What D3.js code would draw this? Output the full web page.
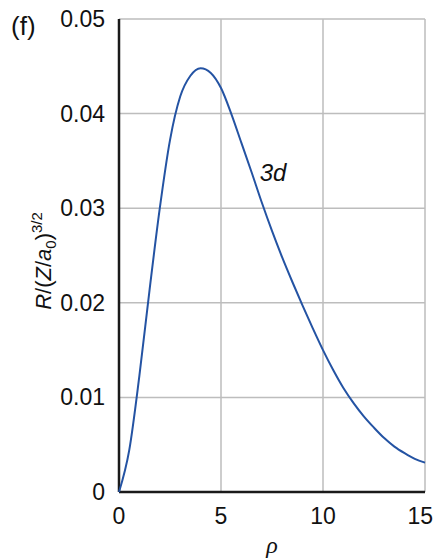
<!DOCTYPE html>
<html>
<head>
<meta charset="utf-8">
<script src="https://cdn.jsdelivr.net/npm/d3@7"></script>
<style>
  body { margin: 0; background: #fff; }
  text { font-family: "Liberation Sans", Arial, sans-serif; fill: #111; }
</style>
</head>
<body>
<svg id="chart"></svg>
<script>
// values (rho, R/(Z/a0)^3/2), every 0.5
const rhoValues = [0, 0.5, 1, 1.5, 2, 2.5, 3, 3.5, 4, 4.5, 5, 5.5, 6, 6.5, 7, 7.5, 8, 8.5, 9, 9.5, 10,
                   10.5, 11, 11.5, 12, 12.5, 13, 13.5, 14, 14.5, 15];
const rValues   = [0, 0.0044, 0.0123, 0.0214, 0.0300, 0.0372, 0.0418, 0.0440, 0.0448, 0.0443, 0.0427,
                   0.0400, 0.0369, 0.0338, 0.0306, 0.0276, 0.0248, 0.0222, 0.0197, 0.0173, 0.0150,
                   0.0129, 0.0110, 0.0094, 0.0080, 0.0068, 0.0057, 0.0048, 0.0041, 0.0035, 0.0031];
const xTicks = [0, 5, 10, 15];
const yTicks = [0, 0.01, 0.02, 0.03, 0.04, 0.05];
const yTickLabels = ["0", "0.01", "0.02", "0.03", "0.04", "0.05"];
const curveName = "3d";

const width = 433, height = 560;
const margin = { top: 19, right: 8, bottom: 68, left: 119 };
const innerW = width - margin.left - margin.right;
const innerH = height - margin.top - margin.bottom;

const svg = d3.select("#chart").attr("width", width).attr("height", height);
const chart = svg.append("g").attr("transform", `translate(${margin.left},${margin.top})`);

const x = d3.scaleLinear().domain([0, 15]).range([0, innerW]);
const y = d3.scaleLinear().domain([0, 0.05]).range([innerH, 0]);

// grid
chart.append("g").selectAll("line")
  .data(xTicks.slice(1))
  .enter().append("line")
  .attr("x1", d => x(d)).attr("x2", d => x(d))
  .attr("y1", 0).attr("y2", innerH)
  .attr("stroke", "#bdbdbd").attr("stroke-width", 1.5);

chart.append("g").selectAll("line")
  .data(yTicks.slice(1))
  .enter().append("line")
  .attr("x1", 0).attr("x2", innerW)
  .attr("y1", d => y(d)).attr("y2", d => y(d))
  .attr("stroke", "#bdbdbd").attr("stroke-width", 1.5);

// axes lines (left + bottom dark)
chart.append("line").attr("x1", 0).attr("x2", 0).attr("y1", 0).attr("y2", innerH)
  .attr("stroke", "#1a1a1a").attr("stroke-width", 2.5);
chart.append("line").attr("x1", 0).attr("x2", innerW).attr("y1", innerH).attr("y2", innerH)
  .attr("stroke", "#1a1a1a").attr("stroke-width", 2.5);

// tick labels
chart.append("g").selectAll("text")
  .data(yTicks)
  .enter().append("text")
  .attr("x", -14)
  .attr("y", d => y(d) + 8)
  .attr("text-anchor", "end")
  .style("font-size", "23px")
  .text((d, i) => yTickLabels[i]);

chart.append("g").selectAll("text")
  .data(xTicks)
  .enter().append("text")
  .attr("x", (d, i) => i === xTicks.length - 1 ? width - margin.left : x(d))
  .attr("y", innerH + 32)
  .attr("text-anchor", (d, i) => i === xTicks.length - 1 ? "end" : "middle")
  .style("font-size", "23px")
  .text(d => d);

// curve
const pts = rhoValues.map((r, i) => [r, rValues[i]]);
const line = d3.line()
  .x(d => x(d[0]))
  .y(d => y(d[1]))
  .curve(d3.curveMonotoneX);

chart.append("path")
  .datum(pts)
  .attr("d", line)
  .attr("fill", "none")
  .attr("stroke", "#2453a3")
  .attr("stroke-width", 2);

// curve label
chart.append("text")
  .attr("x", x(6.9))
  .attr("y", y(0.0329))
  .style("font-size", "24px")
  .style("font-style", "italic")
  .text(curveName);

// panel tag
svg.append("text").attr("x", 11).attr("y", 35)
  .style("font-size", "26px").text("(f)");

// x label
svg.append("text")
  .attr("x", 272).attr("y", 553)
  .attr("text-anchor", "middle")
  .style("font-family", "'Liberation Serif', serif")
  .style("font-style", "italic")
  .style("font-size", "24px")
  .text("ρ");

// y label
const yl = svg.append("text")
  .attr("transform", "translate(51,261) rotate(-90)")
  .attr("text-anchor", "middle")
  .style("font-size", "22px");
yl.append("tspan").style("font-style", "italic").text("R");
yl.append("tspan").text("/(");
yl.append("tspan").style("font-style", "italic").text("Z");
yl.append("tspan").text("/");
yl.append("tspan").style("font-style", "italic").text("a");
yl.append("tspan").attr("dy", 5).style("font-size", "15px").text("0");
yl.append("tspan").attr("dy", -5).text(")");
yl.append("tspan").attr("dy", -9).style("font-size", "15px").text("3/2");
</script>
</body>
</html>
